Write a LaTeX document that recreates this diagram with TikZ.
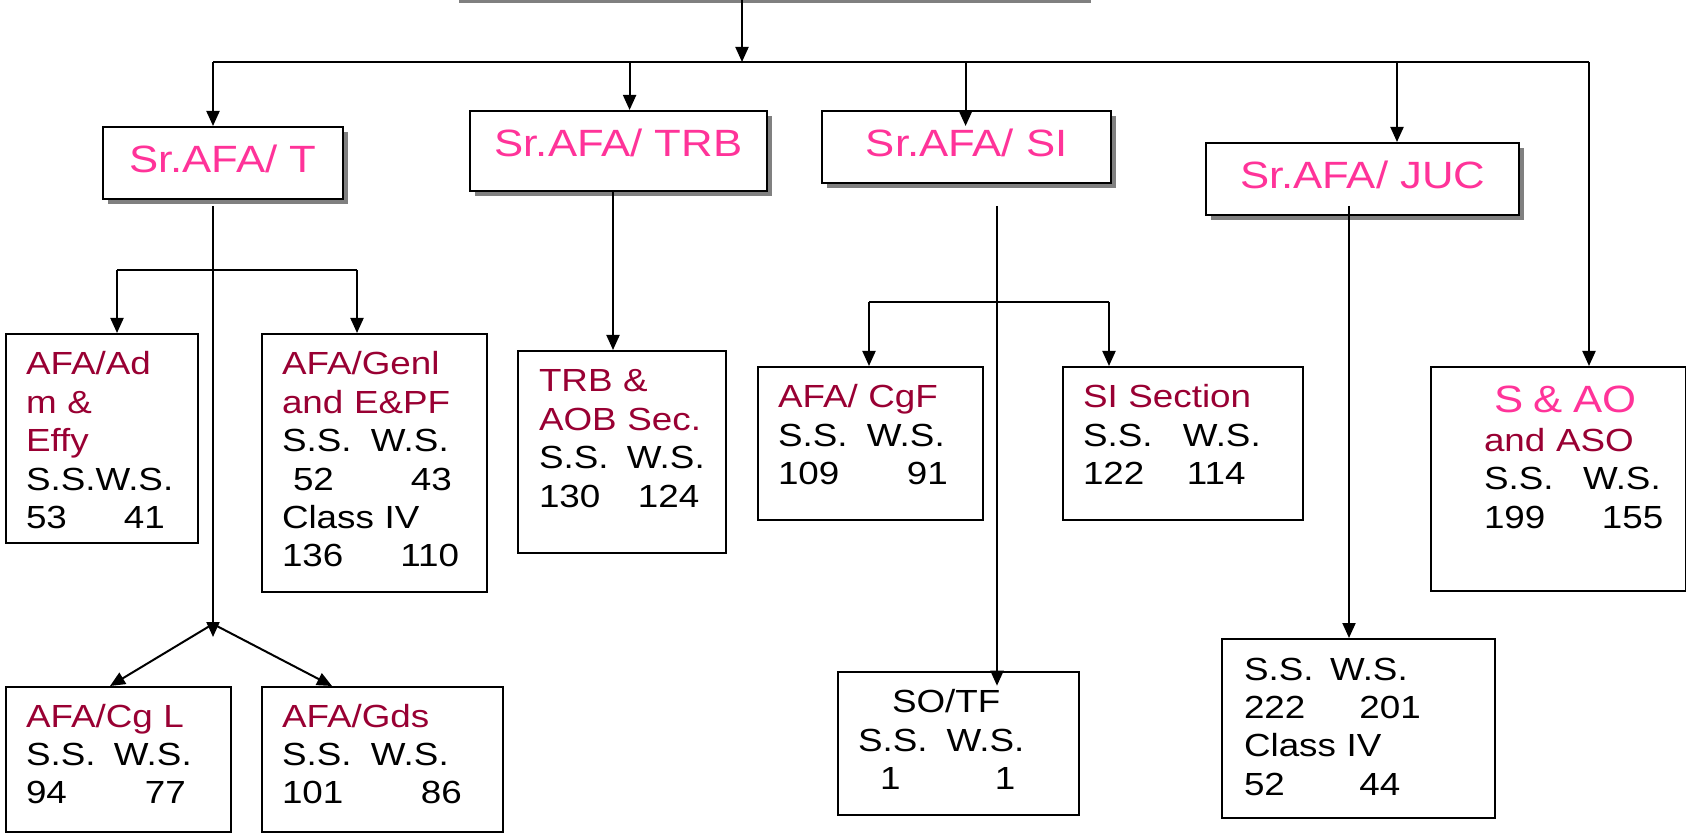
\documentclass[tikz,border=0pt]{standalone}
\usepackage{fontspec}
\setmainfont{Liberation Sans}[FakeStretch=1.15]
\usetikzlibrary{arrows.meta, calc, shadows}
\definecolor{srpink}{HTML}{FF3399}
\definecolor{wine}{HTML}{990033}
\newcommand\unitfont{\fontsize{16}{19.2}\selectfont}
\newcommand\headfont{\fontsize{19}{22}\selectfont}
\newcommand\unithead[1]{\textcolor{wine}{#1}}
\newcommand\colpair[3]{\makebox[#1][l]{#2}#3}

\begin{document}
\begin{tikzpicture}[
    x=0.5pt, y=-0.5pt,
    % Styles
    headbox/.style={rectangle, draw, line width=1.2pt, fill=white, anchor=north west, inner sep=0pt, font=\headfont, text=srpink, text height=22.5pt, text depth=13.5pt, drop shadow={shadow xshift=2.5pt, shadow yshift=-2.5pt, opacity=1, fill=black!50}},
    unitbox/.style n args={3}{rectangle, draw, line width=1pt, fill=white, anchor=north west, inner sep=0pt, align=left, font=\unitfont, text height=20.5pt, text width=#1, text depth=#2, execute at begin node={\leftskip=#3\relax}},
    wire/.style={line width=1pt, black},
    arrow/.style={-{Triangle[length=7.5pt, width=6.5pt]}, line width=1pt, black}
]
\useasboundingbox (0,0) rectangle (1686,833);
\clip (0,0) rectangle (1686,833);

% ==================== TOP LEVEL ====================
\node[headbox, anchor=south west, minimum width=316pt] (head) at (453,-1) {};
\node[headbox, minimum width=120pt] (t) at (101.6,126) {Sr.AFA/ T};
\node[headbox, minimum width=148.3pt, text depth=17.5pt] (trb) at (469,110) {Sr.AFA/ TRB};
\node[headbox, minimum width=144.5pt] (si) at (821,110) {Sr.AFA/ SI};
\node[headbox, minimum width=156.5pt] (juc) at (1205,142) {Sr.AFA/ JUC};

% ==================== UNITS ====================
\node[unitbox={96pt}{84pt}{10pt}] (ad) at (5,333) {\unithead{AFA/Ad}\\ \unithead{m \&}\\ \unithead{Effy}\\ S.S.W.S.\\ \colpair{49pt}{53}{41}};
\node[unitbox={112.25pt}{108.5pt}{10pt}] (genl) at (261,333) {\unithead{AFA/Genl}\\ \unithead{and E\&PF}\\ \colpair{44.5pt}{S.S.}{W.S.}\\ \hspace*{5.5pt}\colpair{59pt}{52}{43}\\ Class IV\\ \colpair{59.25pt}{136}{110}};
\node[unitbox={104pt}{80.5pt}{10.5pt}] (trbsec) at (517,350) {\unithead{TRB \&}\\ \unithead{AOB Sec.}\\ \colpair{44pt}{S.S.}{W.S.}\\ \colpair{49.5pt}{130}{124}};
\node[unitbox={112.5pt}{56pt}{10pt}] (cgf) at (757,366) {\unithead{AFA/ CgF}\\ \colpair{44.5pt}{S.S.}{W.S.}\\ \colpair{64.5pt}{109}{91}};
\node[unitbox={120pt}{56pt}{10pt}] (sisec) at (1062,366) {\unithead{SI Section}\\ \colpair{50pt}{S.S.}{W.S.}\\ \colpair{52pt}{122}{114}};
\node[unitbox={127.5pt}{89pt}{26.5pt}, text height=23pt] (sao) at (1430,366) {\hspace*{5pt}{\headfont\textcolor{srpink}{S \& AO}}\\ \unithead{and ASO}\\ \colpair{49.5pt}{S.S.}{W.S.}\\ \colpair{59pt}{199}{155}};
\node[unitbox={112.3pt}{52.5pt}{10pt}, text height=20pt] (cgl) at (5,686) {\unithead{AFA/Cg L}\\ \colpair{44pt}{S.S.}{W.S.}\\ \colpair{59.5pt}{94}{77}};
\node[unitbox={120.3pt}{52.5pt}{10pt}, text height=20pt] (gds) at (261,686) {\unithead{AFA/Gds}\\ \colpair{44.5pt}{S.S.}{W.S.}\\ \colpair{69.5pt}{101}{86}};
\node[unitbox={120.5pt}{51.15pt}{10pt}] (sotf) at (837,670.7) {\hspace*{17pt}SO/TF\\ \colpair{44.3pt}{S.S.}{W.S.}\\ \hspace*{11pt}\colpair{57.5pt}{1}{1}};
\node[unitbox={136.25pt}{69pt}{11pt}] (jucsec) at (1221,638) {\colpair{43pt}{S.S.}{W.S.}\\ \colpair{57.75pt}{222}{201}\\ Class IV\\ \colpair{57.75pt}{52}{44}};

% ==================== MAIN BUS ====================
\coordinate (busT) at (213,62);
\coordinate (busTRB) at (629.6,62);
\coordinate (busTop) at (742,62);
\coordinate (busSI) at (965.6,62);
\coordinate (busJUC) at (1397,62);
\coordinate (busSAO) at (1589,62);

\draw[arrow] (head.south -| busTop) -- (busTop);
\draw[wire] (busT) -- (busSAO);
\draw[arrow] (busT) -- (busT |- t.north);
\draw[arrow] (busTRB) -- (busTRB |- trb.north);
\draw[arrow, shorten >=-8pt] (busSI) -- (busSI |- si.north);
\draw[arrow] (busJUC) -- (busJUC |- juc.north);
\draw[arrow] (busSAO) -- (busSAO |- sao.north);

% ==================== Sr.AFA/ T ====================
\coordinate (tStem) at (213,206);
\coordinate (tFork) at (213,637);
\coordinate (tLeft) at (117,270);
\coordinate (tRight) at (357,270);

\draw[arrow] (tStem) -- (tFork);
\draw[wire] (tLeft) -- (tRight);
\draw[arrow] (tLeft) -- (tLeft |- ad.north);
\draw[arrow] (tRight) -- (tRight |- genl.north);
\draw[arrow] ([yshift=6.5pt]tFork) -- ($(cgl.north west)+(105,0)$);
\draw[arrow] ([yshift=6.5pt]tFork) -- ($(gds.north west)+(71,0)$);

% ==================== Sr.AFA/ TRB ====================
\coordinate (trbStem) at (613,0);
\draw[arrow] (trbStem |- trb.south) -- (trbStem |- trbsec.north);

% ==================== Sr.AFA/ SI ====================
\coordinate (siStem) at (997,206);
\coordinate (siLeft) at (869,302);
\coordinate (siRight) at (1109,302);

\draw[arrow, shorten >=-7.5pt] (siStem) -- (siStem |- sotf.north);
\draw[wire] (siLeft) -- (siRight);
\draw[arrow] (siLeft) -- (siLeft |- cgf.north);
\draw[arrow] (siRight) -- (siRight |- sisec.north);

% ==================== Sr.AFA/ JUC ====================
\coordinate (jucStem) at (1349,206);
\draw[arrow] (jucStem) -- (jucStem |- jucsec.north);

\end{tikzpicture}
\end{document}
